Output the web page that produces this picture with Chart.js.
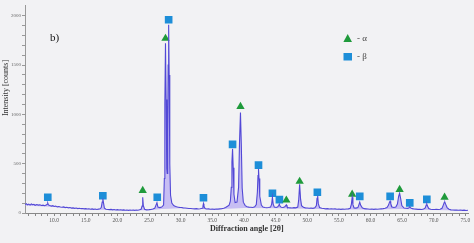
<!DOCTYPE html>
<html><head><meta charset="utf-8">
<script src="https://cdn.jsdelivr.net/npm/chart.js@4.4.1/dist/chart.umd.min.js"></script>
<style>html,body{margin:0;padding:0;background:#f2f2f4}#c{display:block}</style>
</head><body><canvas id="c" width="474" height="243"></canvas>
<script>
// Diffraction pattern (2θ in degrees, intensity in counts) — rows of 10
const angles = [
  5.4,5.6,5.8,6.0,6.2,6.4,6.6,6.8,7.0,7.25,
  7.5,7.75,8.0,8.25,8.5,8.75,8.9,9.0,9.1,9.3,
  9.6,9.8,10.0,10.25,10.5,10.75,11.0,11.25,11.5,11.75,
  12.0,12.25,12.5,12.75,13.0,13.25,13.5,13.75,14.0,14.25,
  14.5,14.75,15.0,15.25,15.5,15.75,16.0,16.25,16.5,16.75,
  17.0,17.25,17.45,17.6,17.7,17.8,17.95,18.2,18.5,18.75,
  19.0,19.25,19.5,19.75,20.0,20.25,20.5,20.75,21.0,21.25,
  21.5,21.75,22.0,22.25,22.5,22.75,23.0,23.25,23.5,23.75,
  23.9,24.0,24.1,24.3,24.6,25.0,25.3,25.6,25.9,26.1,
  26.25,26.4,26.7,27.0,27.3,27.42,27.5,27.6,27.7,27.8,
  27.87,27.95,28.02,28.1,28.18,28.28,28.4,28.6,28.9,29.2,
  29.5,29.8,30.1,30.4,30.7,31.0,31.3,31.6,31.9,32.2,
  32.5,32.8,33.1,33.4,33.52,33.6,33.68,33.85,34.1,34.4,
  34.7,35.0,35.3,35.6,35.9,36.2,36.5,36.8,37.1,37.4,
  37.65,37.85,38.0,38.1,38.2,38.3,38.42,38.6,38.9,39.15,
  39.3,39.45,39.58,39.72,39.9,40.2,40.5,40.8,41.1,41.4,
  41.7,41.95,42.12,42.22,42.3,42.38,42.5,42.75,43.0,43.3,
  43.6,43.9,44.2,44.38,44.5,44.62,44.8,45.1,45.35,45.5,
  45.6,45.7,45.9,46.2,46.45,46.6,46.7,46.8,47.0,47.3,
  47.6,47.9,48.2,48.5,48.65,48.8,48.95,49.1,49.4,49.7,
  50.0,50.3,50.6,50.9,51.2,51.45,51.55,51.65,51.75,51.95,
  52.3,52.6,52.9,53.2,53.5,53.8,54.1,54.4,54.7,55.0,
  55.3,55.6,55.9,56.2,56.5,56.8,56.98,57.1,57.22,57.4,
  57.7,58.0,58.15,58.3,58.45,58.7,59.0,59.3,59.6,59.9,
  60.2,60.5,60.8,61.1,61.4,61.7,62.0,62.3,62.6,62.85,
  63.0,63.1,63.2,63.4,63.7,64.0,64.25,64.45,64.6,64.75,
  64.95,65.3,65.6,65.9,66.05,66.2,66.35,66.6,66.9,67.2,
  67.5,67.8,68.1,68.4,68.65,68.8,68.9,69.0,69.2,69.5,
  69.8,70.1,70.4,70.7,71.0,71.3,71.5,71.65,71.75,71.9,
  72.1,72.4,72.7,73.0,73.3,73.6,73.9,74.2,74.5,74.8,
  75.1,75.4
];
const counts = [
  85,95,83,90,80,92,84,88,78,86,
  80,84,76,80,74,80,88,100,82,76,
  70,74,66,70,62,66,60,58,62,55,
  58,52,55,50,52,47,50,45,48,44,
  46,42,44,40,43,38,42,37,40,36,
  39,42,55,110,145,105,50,38,36,34,
  37,32,35,31,34,30,33,29,32,28,
  31,27,30,28,31,27,30,28,32,38,
  70,160,75,38,32,34,36,40,48,80,
  105,60,55,60,80,350,1100,1720,1150,450,
  400,800,1500,1910,1400,500,180,100,75,66,
  60,57,55,52,50,48,46,45,43,42,
  44,41,43,48,70,95,68,45,40,42,
  38,40,37,41,39,42,44,48,55,68,
  80,120,260,520,650,460,190,105,110,260,
  720,1020,700,250,110,75,64,60,58,56,
  62,85,210,380,445,350,170,80,60,56,
  54,55,60,90,160,90,60,56,62,78,
  90,70,58,56,62,75,82,64,54,52,
  50,54,52,60,130,290,140,75,58,52,
  50,48,50,47,52,75,150,175,95,55,
  48,45,42,44,41,43,40,42,38,40,
  37,39,38,40,42,48,90,160,85,52,
  50,55,80,110,78,52,44,42,40,38,
  40,37,39,38,40,42,44,48,56,80,
  110,120,95,60,56,60,90,170,200,150,
  75,50,48,47,52,62,52,44,41,39,
  37,38,36,40,52,80,90,70,46,38,
  36,35,37,35,38,48,80,105,110,85,
  55,38,32,30,29,31,28,30,27,29,
  26,28
];
// estimated background under the pattern
const baseAngles = [5.4,10,15,20,25,27,30,35,40,45,50,55,60,65,70,75.4];
const baseCounts = [76,60,39,29,29,40,48,35,50,48,44,35,35,40,31,25];
// phase markers
const alphaAngles = [24.0,27.6,39.45,46.7,48.8,57.1,64.6,71.7];
const alphaMarks  = [228,1770,1080,130,320,190,237,158];
const betaAngles  = [9.0,17.7,26.3,28.1,33.6,38.2,42.3,44.5,45.6,51.6,58.3,63.1,66.2,68.9];
const betaMarks   = [160,175,160,1960,155,696,485,200,135,210,168,168,102,138];
// tick labels
const xTickLabels = [10,15,20,25,30,35,40,45,50,55,60,65,70,75];
const yTickLabels = [0,500,1000,1500,2000];

const pts = (xs, ys) => xs.map((x, i) => ({x, y: ys[i]}));

const deco = {
  id: 'deco',
  afterDraw(chart) {
    const c = chart.ctx;
    c.save();
    c.textBaseline = 'middle';
    c.fillStyle = '#111';
    c.font = '11px "Liberation Serif", serif';
    c.fillText('b)', 50, 38);
    // legend
    c.fillStyle = '#1f9a3b';
    c.beginPath(); c.moveTo(347.7, 34); c.lineTo(352, 42); c.lineTo(343.4, 42); c.closePath(); c.fill();
    c.fillStyle = '#1d8ed8';
    c.fillRect(343.5, 53, 8.5, 7.5);
    c.fillStyle = '#444';
    c.font = '9px "Liberation Serif", serif';
    c.fillText('- α', 357, 38.5);
    c.fillText('- β', 357, 57);
    // y title
    c.translate(6, 88);
    c.rotate(-Math.PI / 2);
    c.textAlign = 'center';
    c.fillStyle = '#333';
    c.font = '8px "Liberation Serif", serif';
    c.fillText('Intensity [counts]', 0, 0);
    c.restore();
  }
};

const xMinor = []; for (let v = 6; v <= 75; v++) xMinor.push(v);
const yMinor = []; for (let v = 0; v <= 2000; v += 100) yMinor.push(v);

new Chart(document.getElementById('c'), {
  type: 'line',
  data: {
    datasets: [
      { data: pts(baseAngles, baseCounts), borderWidth: 0, borderColor: 'rgba(0,0,0,0)', pointRadius: 0, fill: false },
      { data: pts(angles, counts), borderColor: '#5248d6', borderWidth: 1.1, pointRadius: 0, tension: 0,
        fill: { target: 0 }, backgroundColor: 'rgba(175,162,242,0.65)' },
      { data: pts(alphaAngles, alphaMarks), showLine: false, pointStyle: 'triangle', pointRadius: 4.8,
        backgroundColor: '#1f9a3b', borderWidth: 0 },
      { data: pts(betaAngles, betaMarks), showLine: false, pointStyle: 'rect', pointRadius: 5.4,
        backgroundColor: '#1d8ed8', borderWidth: 0 }
    ]
  },
  options: {
    responsive: false, animation: false, devicePixelRatio: 1,
    layout: { padding: { left: 0, right: 4, top: 0, bottom: 0 } },
    plugins: { legend: { display: false }, tooltip: { enabled: false } },
    scales: {
      x: {
        type: 'linear', min: 5.4, max: 75.5,
        afterBuildTicks: s => { s.ticks = xMinor.map(v => ({ value: v })); },
        afterFit: s => { s.height = 30; },
        grid: { drawOnChartArea: false, drawTicks: true, tickLength: 3, tickColor: '#888' },
        border: { display: true, color: '#888', width: 1 },
        ticks: { autoSkip: false, maxRotation: 0, padding: 1, color: '#555',
          font: { family: '"Liberation Serif", serif', size: 5.5 },
          callback: v => xTickLabels.includes(v) ? v.toFixed(1) : '' },
        title: { display: true, text: 'Diffraction angle [2θ]', color: '#333',
          font: { family: '"Liberation Serif", serif', size: 8, weight: 'bold' },
          padding: { top: 0, bottom: 9 } }
      },
      y: {
        min: 0, max: 2105,
        afterBuildTicks: s => { s.ticks = yMinor.map(v => ({ value: v })); },
        afterFit: s => { s.width = 25; },
        grid: { drawOnChartArea: false, drawTicks: true, tickLength: 3, tickColor: '#999' },
        border: { display: true, color: '#999', width: 1 },
        ticks: { autoSkip: false, padding: 1, color: '#666',
          font: { family: '"Liberation Serif", serif', size: 5 },
          callback: v => yTickLabels.includes(v) ? String(v) : '' }
      }
    }
  },
  plugins: [deco]
});
</script>
</body></html>
